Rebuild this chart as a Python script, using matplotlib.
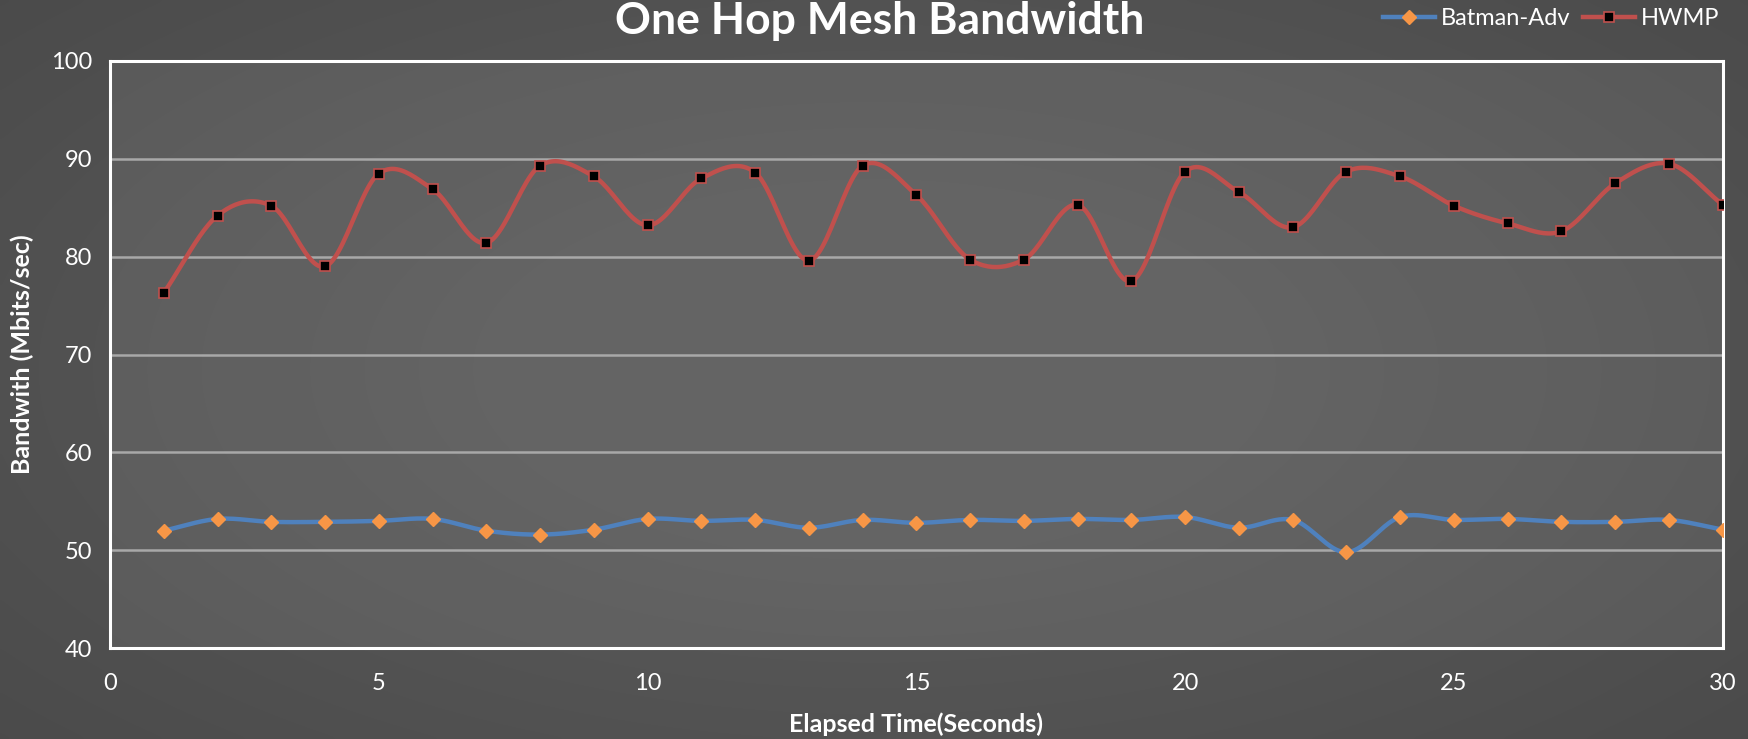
import numpy as np
import matplotlib
matplotlib.use("Agg")
import matplotlib.pyplot as plt
from matplotlib.lines import Line2D

# Per-second bandwidth samples (Mbits/sec)
seconds = list(range(1, 31))
batman_adv = [52.0, 53.2, 52.9, 52.9, 53.0, 53.2, 52.0, 51.6, 52.1, 53.2,
              53.0, 53.1, 52.3, 53.1, 52.8, 53.1, 53.0, 53.2, 53.1, 53.4,
              52.3, 53.1, 49.8, 53.4, 53.1, 53.2, 52.9, 52.9, 53.1, 52.1]
hwmp = [76.3, 84.2, 85.2, 79.0, 88.5, 86.9, 81.4, 89.3, 88.2, 83.2,
        88.0, 88.6, 79.6, 89.3, 86.3, 79.7, 79.7, 85.3, 77.5, 88.7,
        86.6, 83.0, 88.7, 88.2, 85.2, 83.4, 82.6, 87.5, 89.5, 85.3]
x_ticks = [0, 5, 10, 15, 20, 25, 30]
y_ticks = [40, 50, 60, 70, 80, 90, 100]

FONT = ["Lato", "DejaVu Sans"]
plt.rcParams["font.family"] = FONT


def smooth(xs, ys, steps=24):
    """Catmull-Rom curve through the points (spreadsheet-style smoothed line)."""
    xs = np.asarray(xs, float)
    ys = np.asarray(ys, float)
    px = np.concatenate([[2 * xs[0] - xs[1]], xs, [2 * xs[-1] - xs[-2]]])
    py = np.concatenate([[2 * ys[0] - ys[1]], ys, [2 * ys[-1] - ys[-2]]])
    out_x, out_y = [], []
    t = np.linspace(0, 1, steps, endpoint=False)
    for i in range(1, len(px) - 2):
        for arr, out in ((px, out_x), (py, out_y)):
            p0, p1, p2, p3 = arr[i - 1], arr[i], arr[i + 1], arr[i + 2]
            seg = 0.5 * ((2 * p1) + (-p0 + p2) * t
                         + (2 * p0 - 5 * p1 + 4 * p2 - p3) * t ** 2
                         + (-p0 + 3 * p1 - 3 * p2 + p3) * t ** 3)
            out.extend(seg)
    out_x.append(xs[-1])
    out_y.append(ys[-1])
    return np.array(out_x), np.array(out_y)


fig = plt.figure(figsize=(17.49, 7.39), dpi=100)

# Dark slate backdrop with a soft vignette
bg = fig.add_axes([0, 0, 1, 1], zorder=-10)
gy, gx = np.mgrid[-1:1:200j, -1:1:400j]
r = np.sqrt((gx * 0.9) ** 2 + (gy * 0.8) ** 2)
shade = 0.35 - 0.07 * np.clip(r - 0.4, 0, None)
bg.imshow(np.dstack([shade] * 3), aspect="auto", extent=[0, 1, 0, 1],
          interpolation="bicubic")
bg.set_axis_off()

ax = fig.add_axes([0.0629, 0.123, 0.9221, 0.7945])
ax.set_facecolor((1, 1, 1, 0.07))

BLUE = "#4F81BD"
ORANGE = "#F79646"
RED = "#C0504D"

sx, sy = smooth(seconds, batman_adv)
ax.plot(sx, sy, color=BLUE, lw=3.2, solid_capstyle="round", zorder=3)
ax.plot(seconds, batman_adv, ls="none", marker="D", ms=7.5, mfc=ORANGE,
        mec=ORANGE, zorder=4)

sx, sy = smooth(seconds, hwmp)
ax.plot(sx, sy, color=RED, lw=3.2, solid_capstyle="round", zorder=3)
ax.plot(seconds, hwmp, ls="none", marker="s", ms=7, mfc="black",
        mec=RED, mew=1.2, zorder=4)

ax.set_xlim(0, 30)
ax.set_ylim(40, 100)
ax.set_xticks(x_ticks)
ax.set_yticks(y_ticks)
ax.tick_params(length=0, colors="white", labelsize=17)
ax.tick_params(axis="x", pad=18)
ax.tick_params(axis="y", pad=13)
ax.grid(axis="y", color="#a8a8a8", lw=1.8)
ax.set_axisbelow(True)
for s in ax.spines.values():
    s.set_color("white")
    s.set_linewidth(2.2)

fig.text(0.503, 0.972, "One Hop Mesh Bandwidth", ha="center", va="center",
         color="white", fontsize=32, fontweight="bold")
fig.text(0.524, 0.02, "Elapsed Time(Seconds)", ha="center", va="center",
         color="white", fontsize=18, fontweight="bold")
fig.text(0.0125, 0.521, "Bandwith (Mbits/sec)", ha="center", va="center",
         rotation=90, color="white", fontsize=18, fontweight="bold")

handles = [
    Line2D([], [], color=BLUE, lw=3.2, marker="D", ms=7.5, mfc=ORANGE, mec=ORANGE),
    Line2D([], [], color=RED, lw=3.2, marker="s", ms=7, mfc="black", mec=RED, mew=1.2),
]
leg = fig.legend(handles, ["Batman-Adv", "HWMP"], loc="upper right",
                 bbox_to_anchor=(0.995, 1.018), ncol=2, frameon=False,
                 fontsize=17, handlelength=2.2, handletextpad=0.25,
                 columnspacing=0.5, labelcolor="white")

fig.savefig("out.png", dpi=100)
